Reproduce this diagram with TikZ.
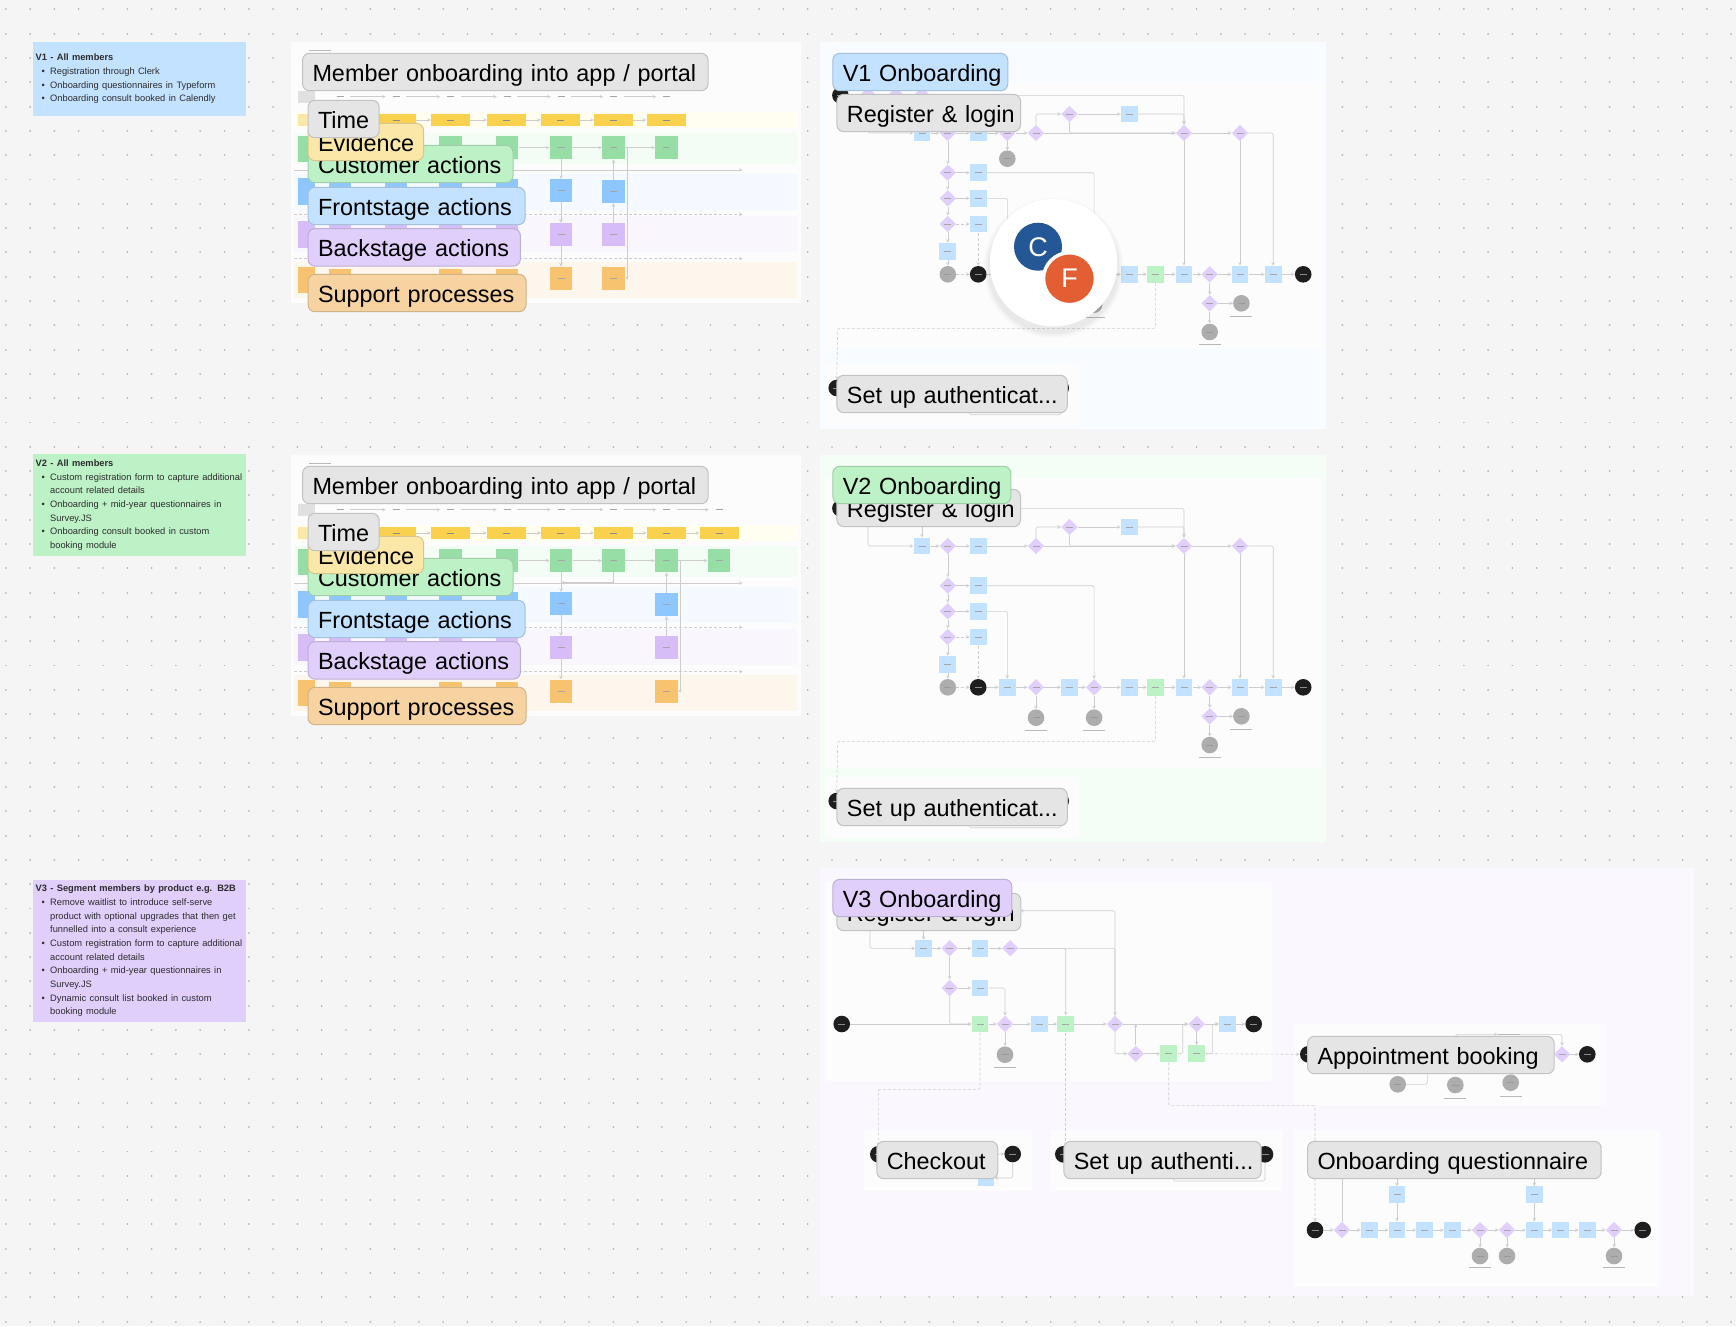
\documentclass[tikz,border=0pt]{standalone}
\usepackage{fontspec}
\setmainfont{Liberation Sans}
\usetikzlibrary{arrows, shapes.geometric, calc}

\definecolor{canvasgray}{HTML}{F5F5F5}
\definecolor{dotgray}{HTML}{B4B4B4}
\definecolor{linegray}{HTML}{CDCDCD}
\definecolor{framewhite}{HTML}{FCFCFC}
\definecolor{noteblue}{HTML}{C2E2FF}
\definecolor{notegreen}{HTML}{BDF2C7}
\definecolor{notepurple}{HTML}{E0CEFB}
\definecolor{noteorange}{HTML}{F6D3A0}
\definecolor{noteyellow}{HTML}{FBE8A8}
\definecolor{noteink}{HTML}{2C2C2C}
\definecolor{inkblack}{HTML}{1E1E1E}
\definecolor{circlegray}{HTML}{ADADAD}
\definecolor{avatarblue}{HTML}{235796}
\definecolor{avatarorange}{HTML}{E35F33}
\definecolor{stickyyellow}{HTML}{FAD14F}
\definecolor{stickygreen}{HTML}{96DEA6}
\definecolor{stickyblue}{HTML}{8EC6FF}
\definecolor{stickypurple}{HTML}{D6BDF8}
\definecolor{stickyorange}{HTML}{F8C36F}

\tikzset{
  smudge/.style={path picture={\draw[line width=.5pt,#1] ([xshift=-3.5pt]path picture bounding box.center) -- ([xshift=3.5pt]path picture bounding box.center);}},
  smudge/.default=black!35,
  pill/.style={rounded corners=7pt, line width=1pt, anchor=west, align=left, inner xsep=10pt, inner ysep=7.7pt, text height=20.4pt, text depth=1.6pt, font=\fontsize{23.4}{24}\selectfont, text=black},
  pillgrey/.style={pill, fill=black!10, draw=black!24},
  pillyellow/.style={pill, fill=noteyellow, draw=noteyellow!85!black},
  pillgreen/.style={pill, fill=notegreen, draw=notegreen!85!black},
  pillblue/.style={pill, fill=noteblue, draw=noteblue!85!black},
  pillpurple/.style={pill, fill=notepurple, draw=notepurple!85!black},
  pillorange/.style={pill, fill=noteorange, draw=noteorange!85!black},
  notebox/.style={anchor=north west, inner xsep=2.5pt, inner ysep=0pt, text width=208pt, minimum width=213pt, align=left, text=noteink},
  rbox/.style={rectangle, fill=noteblue, inner sep=0pt, minimum size=16.8pt, smudge},
  gbox/.style={rectangle, fill=notegreen, inner sep=0pt, minimum size=16.8pt, smudge},
  dmark/.style={diamond, aspect=1, fill=notepurple, inner sep=0pt, minimum size=16.5pt, smudge},
  gcirc/.style={circle, fill=circlegray, inner sep=0pt, minimum size=16.6pt, smudge=black!40},
  kcirc/.style={circle, fill=inkblack, inner sep=0pt, minimum size=16.6pt, smudge=black!45},
  capmark/.style={rectangle, fill=black!28, inner sep=0pt, minimum width=22pt, minimum height=.6pt},
  flow/.style={draw=linegray, line width=.6pt, rounded corners=1.5pt, -stealth},
  flowdash/.style={flow, densely dashed},
  sticky/.style={rectangle, inner sep=0pt, minimum width=22.7pt, minimum height=23pt, smudge=black!35},
  evsticky/.style={rectangle, fill=stickyyellow, inner sep=0pt, minimum width=39pt, minimum height=12pt, smudge=black!45},
  timemark/.style={rectangle, inner sep=0pt, minimum width=20pt, minimum height=4pt, smudge=black!35},
  bpline/.style={draw=linegray, line width=.6pt, -stealth},
  dotrow/.style={draw=dotgray, line width=1.9pt, line cap=round, dash pattern=on .01pt off 24.29pt}
}

\newcommand{\bulletline}[1]{\par\hangindent=14.5pt\hangafter=1\noindent\hspace*{6pt}\makebox[8.5pt][l]{\textbullet}\mbox{#1}}
\newcommand{\noterest}[1]{\newline\mbox{#1}}
\newcommand{\notefont}{\fontsize{9.3}{13.67}\selectfont}

\newcommand{\blueprintlanes}{
  \fill[framewhite] (291,42) rectangle (801,303);
  \fill[yellow!6] (294,111.7) rectangle (796.5,128.3);
  \fill[notegreen!18!white] (294,133) rectangle (796.5,164);
  \fill[noteblue!18!white] (294,174) rectangle (796.5,210);
  \fill[notepurple!18!white] (294,216) rectangle (796.5,252);
  \fill[noteorange!20!white] (294,261.7) rectangle (796.5,298);
  \node[capmark] (bptitle) at (320,50) {};
  \draw[bpline] (294,170) -- (742.7,170);
  \draw[bpline, densely dashed] (294,214.3) -- (742.7,214.3);
  \draw[bpline, densely dashed] (294,258.7) -- (742.7,258.7);
  \fill[black!12] (298,91) rectangle (315,103);
  \fill[noteyellow] (298,114) rectangle (315,126);
  \fill[stickygreen] (298,135.7) rectangle (315,161.7);
  \fill[stickyblue] (298,178) rectangle (315,205);
  \fill[stickypurple] (298,221) rectangle (315,247.7);
  \fill[stickyorange] (298,266.7) rectangle (315,293);
  \foreach \x [count=\i] in {340,396,450.5,507} {
    \node[sticky, fill=stickyblue] (fs\i) at (\x,190) {};
    \node[sticky, fill=stickypurple] (bs\i) at (\x,236.5) {};
  }
  \foreach \x [count=\i] in {340,450.5,507} {
    \node[sticky, fill=stickyorange] (ss\i) at (\x,280) {};
  }
  \node[sticky, fill=stickygreen] (c3) at (450.5,147.7) {};
  \node[sticky, fill=stickygreen] (c4) at (507,147.7) {};
}

\newcommand{\blueprintpills}{
  \node[pillorange, text width=198pt] (support) at (307.5,293) {\mbox{Support processes}};
  \node[pillpurple, text width=192.4pt] (backstage) at (307.5,247.4) {\mbox{Backstage actions}};
  \node[pillblue, text width=197.1pt] (frontstage) at (307.5,206) {\mbox{Frontstage actions}};
  \node[pillgreen, text width=185pt] (customer) at (307.5,164) {\mbox{Customer actions}};
  \node[pillyellow, text width=95.5pt] (evidence) at (307.5,142) {\mbox{Evidence}};
  \node[pillgrey, text width=51.2pt] (timepill) at (307.5,119) {\mbox{Time}};
  \node[pillgrey, text width=385.6pt] (member) at (302,72) {\mbox{Member onboarding into app / portal}};
}

\newcommand{\flowcommon}{
  \node[kcirc] (kstart) at (840.4,95.3) {};
  \node[dmark] (dtop1) at (868,95.3) {};
  \node[dmark] (dtop2) at (896,95.3) {};
  \node[dmark] (dtop3) at (922,95.3) {};
  \node[rbox] (rform) at (922,133) {};
  \node[dmark] (dfirst) at (947.8,133) {};
  \node[rbox] (rnext) at (978.2,133) {};
  \node[dmark] (dsplit) at (1036,133) {};
  \node[dmark] (dupper) at (1069.5,114) {};
  \node[rbox] (rupper) at (1129.3,114) {};
  \node[dmark] (djoin) at (1184,133) {};
  \node[dmark] (dlast) at (1240,133) {};
  \node[dmark] (dq1) at (947.8,172.7) {};
  \node[dmark] (dq2) at (947.8,198.3) {};
  \node[dmark] (dq3) at (947.8,224) {};
  \node[rbox] (rq1) at (978.2,172.7) {};
  \node[rbox] (rq2) at (978.2,198.3) {};
  \node[rbox] (rq3) at (978.2,224) {};
  \node[rbox] (rq4) at (947.8,251.3) {};
  \node[gcirc] (gleft) at (947.8,274.3) {};
  \node[kcirc] (kmid) at (978.2,274.3) {};
  \node[rbox] (rm1) at (1007.3,274.3) {};
  \node[dmark] (dm1) at (1036,274.3) {};
  \node[rbox] (rm2) at (1069.5,274.3) {};
  \node[dmark] (dm2) at (1094.1,274.3) {};
  \node[rbox] (rm3) at (1129.3,274.3) {};
  \node[gbox] (gm) at (1155.3,274.3) {};
  \node[rbox] (rm4) at (1184,274.3) {};
  \node[dmark] (dm3) at (1209.7,274.3) {};
  \node[rbox] (rm5) at (1240,274.3) {};
  \node[rbox] (rm6) at (1273.2,274.3) {};
  \node[kcirc] (kend) at (1303.2,274.3) {};
  \node[gcirc] (gm1) at (1036,304.7) {};
  \node[gcirc] (gm2) at (1094.1,304.7) {};
  \node[capmark] (cap1) at (1036,317) {};
  \node[capmark] (cap2) at (1094.1,317) {};
  \node[dmark] (dsub) at (1209.7,303.3) {};
  \node[gcirc] (gsub1) at (1241.4,303.3) {};
  \node[gcirc] (gsub2) at (1209.7,332) {};
  \node[capmark] (cap3) at (1241.4,316.3) {};
  \node[capmark] (cap4) at (1209.7,344) {};
  \node[kcirc] (kauth) at (836.7,388) {};
  \node[kcirc] (kauthend) at (1060.7,388) {};
  \coordinate (bend) at (837.7,328.3);
  \coordinate (abot) at (969.5,414.7);
  \coordinate (aleft) at (969.5,400);
  \draw[flow] (dtop1.south) |- (rform.west);
  \draw[flow] (dtop3.south) -- (rform.north);
  \draw[flow] (dtop3.east) -| (djoin.north);
  \draw[flow] (rform) -- (dfirst);
  \draw[flow] (dfirst) -- (rnext);
  \draw[flow] (dsplit.north) |- (dupper.west);
  \draw[flow] (dupper) -- (rupper);
  \draw[flow] (rupper.east) -| (djoin.north);
  \draw[flow] (dupper.south) |- (djoin.west);
  \draw[flow] (dsplit) -- (djoin);
  \draw[flow] (djoin) -- (dlast);
  \draw[flow] (dlast.east) -| (rm6.north);
  \draw[flow] (dlast.south) -- (rm5.north);
  \draw[flow] (djoin.south) -- (rm4.north);
  \draw[flow] (dfirst) -- (dq1);
  \draw[flow] (dq1) -- (dq2);
  \draw[flow] (dq2) -- (dq3);
  \draw[flow] (dq3) -- (rq4);
  \draw[flow] (rq4) -- (gleft);
  \draw[flow] (dq1) -- (rq1);
  \draw[flow] (dq2) -- (rq2);
  \draw[flowdash] (dq3) -- (rq3);
  \draw[flow] (rq1.east) -| (dm2.north);
  \draw[flow] (rq2.east) -| (rm1.north);
  \draw[flowdash] (rq3) -- (kmid);
  \draw[flowdash] (gleft) -- (kmid);
  \draw[flow] (kmid) -- (rm1);
  \draw[flow] (rm1) -- (dm1);
  \draw[flow] (dm1) -- (rm2);
  \draw[flow] (rm2) -- (dm2);
  \draw[flow] (dm2) -- (rm3);
  \draw[flow] (rm3) -- (gm);
  \draw[flow] (gm) -- (rm4);
  \draw[flow] (rm4) -- (dm3);
  \draw[flow] (dm3) -- (rm5);
  \draw[flow] (rm5) -- (rm6);
  \draw[flow] (rm6) -- (kend);
  \draw[flow] (dm1) -- (gm1);
  \draw[flow] (dm2) -- (gm2);
  \draw[flow] (dm3) -- (dsub);
  \draw[flow] (dsub) -- (gsub1);
  \draw[flow] (dsub) -- (gsub2);
  \draw[flowdash] (gm.south) |- (bend) -- (kauth.north);
  \draw[flow] (kauthend.south) |- (abot) -- (aleft);
}

\begin{document}
\begin{tikzpicture}[x=1pt,y=-1pt]
\fill[canvasgray] (0,0) rectangle (1736,1326);
\useasboundingbox (0,0) rectangle (1736,1326);
\foreach \y in {0,...,54} {
  \draw[dotrow] (5.8,{9.4+\y*24.3}) -- (1736,{9.4+\y*24.3});
}

% notes on the left
\node[notebox, fill=noteblue, minimum height=74.7pt] (notea) at (33,41.3) {\notefont\textbf{V1 - All members}
  \bulletline{Registration through Clerk}
  \bulletline{Onboarding questionnaires in Typeform}
  \bulletline{Onboarding consult booked in Calendly}\par};
\node[notebox, fill=notegreen, minimum height=102pt] (noteb) at (33,454) {\notefont\textbf{V2 - All members}
  \bulletline{Custom registration form to capture additional}\noterest{account related details}
  \bulletline{Onboarding + mid-year questionnaires in}\noterest{Survey.JS}
  \bulletline{Onboarding consult booked in custom}\noterest{booking module}\par};
\node[notebox, fill=notepurple, minimum height=142.7pt] (notec) at (33,879.3) {\notefont\textbf{V3 - Segment members by product e.g. B2B}
  \bulletline{Remove waitlist to introduce self-serve}\noterest{product with optional upgrades that then get}\noterest{funnelled into a consult experience}
  \bulletline{Custom registration form to capture additional}\noterest{account related details}
  \bulletline{Onboarding + mid-year questionnaires in}\noterest{Survey.JS}
  \bulletline{Dynamic consult list booked in custom}\noterest{booking module}\par};

% blueprint one
\begin{scope}[name prefix=pa-]
  \blueprintlanes
  \foreach \x [count=\i] in {340,396,450.5,507,561,613.5,666.5} {
    \node[timemark] (t\i) at (\x,96.7) {};
  }
  \foreach \i [evaluate=\i as \j using int(\i+1)] in {1,...,6} {
    \draw[bpline] (t\i) -- (t\j);
  }
  \foreach \x [count=\i] in {396,450.5,506.5,560.5,613.5,666} {
    \node[evsticky] (e\i) at (\x,120) {};
  }
  \foreach \i [evaluate=\i as \j using int(\i+1)] in {1,...,5} {
    \draw[bpline] (e\i) -- (e\j);
  }
  \foreach \x [count=\i from 5] in {561,613.5,666.5} {
    \node[sticky, fill=stickygreen] (c\i) at (\x,147.7) {};
  }
  \node[sticky, fill=stickyblue] (f5) at (561,190.7) {};
  \node[sticky, fill=stickyblue] (f6) at (613.5,191.5) {};
  \node[sticky, fill=stickypurple] (b5) at (561,234.5) {};
  \node[sticky, fill=stickypurple] (b6) at (613.5,234.5) {};
  \node[sticky, fill=stickyorange] (s5) at (561,278) {};
  \node[sticky, fill=stickyorange] (s6) at (613.5,278) {};
  \coordinate (dropa) at (627,147.7);
  \coordinate (dropb) at (627,278);
  \draw[bpline] (c4) -- (c5);
  \draw[bpline] (c5) -- (c6);
  \draw[bpline] (c6) -- (c7);
  \draw[bpline] (c5) -- (f5);
  \draw[bpline] (f5) -- (b5);
  \draw[bpline] (b5) -- (s5);
  \draw[bpline] (b6) -- (f6);
  \draw[bpline] (f6) -- (c6);
  \draw[bpline] (c6.east) -- (dropa) -- (dropb) -- (s6.east);
  \blueprintpills
\end{scope}

% blueprint two
\begin{scope}[name prefix=pb-, yshift=-413pt]
  \blueprintlanes
  \foreach \x [count=\i] in {340,396,450.5,507,561,613.5,666.5,719} {
    \node[timemark] (t\i) at (\x,96.7) {};
  }
  \foreach \i [evaluate=\i as \j using int(\i+1)] in {1,...,7} {
    \draw[bpline] (t\i) -- (t\j);
  }
  \foreach \x [count=\i] in {396,450.5,506.5,560.5,613.5,666,719} {
    \node[evsticky] (e\i) at (\x,120) {};
  }
  \foreach \i [evaluate=\i as \j using int(\i+1)] in {1,...,6} {
    \draw[bpline] (e\i) -- (e\j);
  }
  \foreach \x [count=\i from 5] in {561,613.5,666.5,719} {
    \node[sticky, fill=stickygreen] (c\i) at (\x,147.7) {};
  }
  \node[sticky, fill=stickyblue] (f5) at (561,190.7) {};
  \node[sticky, fill=stickyblue] (f7) at (666.5,191.5) {};
  \node[sticky, fill=stickypurple] (b5) at (561,234.5) {};
  \node[sticky, fill=stickypurple] (b7) at (666.5,234.5) {};
  \node[sticky, fill=stickyorange] (s5) at (561,278) {};
  \node[sticky, fill=stickyorange] (s7) at (666.5,278) {};
  \coordinate (dropa) at (680.4,147.7);
  \coordinate (dropb) at (680.4,278);
  \coordinate (merge) at (561,169.7);
  \draw[bpline] (c4) -- (c5);
  \draw[bpline] (c5) -- (c6);
  \draw[bpline] (c6) -- (c7);
  \draw[bpline] (c7) -- (c8);
  \draw[bpline] (c5) -- (f5);
  \draw[bpline] (f5) -- (b5);
  \draw[bpline] (b5) -- (s5);
  \draw[bpline] (c6.south) |- (merge);
  \draw[bpline] (b7) -- (f7);
  \draw[bpline] (f7) -- (c7);
  \draw[bpline] (c7.east) -- (dropa) -- (dropb) -- (s7.east);
  \blueprintpills
\end{scope}

% onboarding v1
\begin{scope}[name prefix=va-]
  \fill[noteblue!12!white] (820,42) rectangle (1326,429);
  \fill[framewhite] (825,82.3) rectangle (1322,349.3);
  \fill[framewhite] (825,364) rectangle (1079,425);
  \flowcommon
  \node[dmark] (dcheck) at (1007.3,133) {};
  \node[gcirc] (gcheck) at (1007.3,158.7) {};
  \draw[flow] (rnext) -- (dcheck);
  \draw[flow] (dcheck) -- (dsplit);
  \draw[flow] (dcheck) -- (gcheck);
  \node[pillgrey, text width=163.6pt] (register) at (836.4,113) {\mbox{Register \& login}};
  \node[pillblue, text width=155pt] (version) at (832.3,72) {\mbox{V1 Onboarding}};
  \node[pillgrey, text width=210.4pt] (authpill) at (836.4,394) {\mbox{Set up authenticat...}};
\end{scope}

% avatars
\foreach \r/\o in {70/.02,68/.025,66/.03} {
  \fill[black, opacity=\o] (1053.6,268) circle (\r);
}
\node[circle, fill=white, inner sep=0pt, minimum size=127.4pt] (avatar) at (1053.6,262.7) {};
\node[circle, fill=avatarblue, inner sep=0pt, minimum size=48pt, text=white, font=\fontsize{27}{27}\selectfont] (userc) at (1038,246.7) {C};
\node[circle, fill=avatarorange, draw=white, line width=3.5pt, inner sep=0pt, minimum size=52pt, text=white, font=\fontsize{27}{27}\selectfont] (userf) at (1069.5,278.7) {F};

% onboarding v2
\begin{scope}[name prefix=vb-, yshift=-413pt]
  \fill[notegreen!15!white] (820,41.7) rectangle (1326,429);
  \fill[framewhite] (825,64.7) rectangle (1322,355);
  \fill[framewhite] (825,363.7) rectangle (1079,425);
  \flowcommon
  \draw[flow] (rnext) -- (dsplit);
  \node[pillgrey, text width=163.6pt] (register) at (836.4,95) {\mbox{Register \& login}};
  \node[pillgreen, text width=158pt] (version) at (832.3,72) {\mbox{V2 Onboarding}};
  \node[pillgrey, text width=210.4pt] (authpill) at (836.4,394) {\mbox{Set up authenticat...}};
\end{scope}

% onboarding v3
\begin{scope}[name prefix=vc-]
  \fill[notepurple!15!white] (820,868) rectangle (1694,1296);
  \fill[framewhite] (825,882) rectangle (1272.3,1080.7);
  \fill[framewhite] (864,1130) rectangle (1032.3,1191);
  \fill[framewhite] (1051,1130) rectangle (1283.3,1191);
  \fill[framewhite] (1294.7,1023.7) rectangle (1606.3,1105);
  \fill[framewhite] (1294.7,1129.7) rectangle (1660.3,1286.7);
  \node[dmark] (dtop1) at (870,912) {};
  \node[dmark] (dtop2) at (923.7,912) {};
  \node[rbox] (rform) at (923.7,948.3) {};
  \node[dmark] (dfirst) at (949.7,948.3) {};
  \node[rbox] (rnext) at (980,948.3) {};
  \node[dmark] (dsecond) at (1010.3,948.3) {};
  \node[dmark] (dproduct) at (949.7,988) {};
  \node[rbox] (rproduct) at (980,988) {};
  \node[kcirc] (kentry) at (841.7,1024) {};
  \node[gbox] (gcheckout) at (980,1024) {};
  \node[dmark] (dpaid) at (1005,1024) {};
  \node[rbox] (rpaid) at (1039.3,1024) {};
  \node[gbox] (gauth) at (1065.7,1024) {};
  \node[dmark] (droute) at (1115,1024) {};
  \node[dmark] (dmerge) at (1196.7,1024) {};
  \node[rbox] (rfinal) at (1227.7,1024) {};
  \node[kcirc] (kfinal) at (1253.7,1024) {};
  \node[gcirc] (gpaid) at (1005,1054.7) {};
  \node[capmark] (cap1) at (1005,1067) {};
  \node[dmark] (dside) at (1135.7,1053.7) {};
  \node[gbox] (gquest) at (1168.7,1053.7) {};
  \node[gbox] (gbook) at (1196.7,1053.7) {};
  \coordinate (regtop) at (1020.3,910.7);
  \coordinate (sidea) at (1182.7,1053.7);
  \coordinate (sideb) at (1182.7,1024);
  \coordinate (sidec) at (1212.3,1053.7);
  \coordinate (sided) at (1212.3,1024);
  \coordinate (bendc) at (878.3,1089.3);
  \coordinate (bendo) at (1315,1105.3);
  % checkout
  \node[kcirc] (kcheck) at (878.3,1154.3) {};
  \node[kcirc] (kcheckend) at (1012.7,1154) {};
  \node[rbox] (rorder) at (986,1178) {};
  % set up authentication
  \node[kcirc] (kauth) at (1063.3,1154.3) {};
  \node[kcirc] (kauthend) at (1265,1154.3) {};
  \coordinate (abot) at (1173.3,1181);
  \coordinate (aleft) at (1173.3,1175);
  % appointment booking
  \node[kcirc] (kappt) at (1308.3,1054.3) {};
  \node[dmark] (dappt) at (1562,1054.3) {};
  \node[kcirc] (kapptend) at (1587.3,1054.3) {};
  \node[gcirc] (gappta) at (1397.7,1084.3) {};
  \node[gcirc] (gapptb) at (1455.3,1085) {};
  \node[gcirc] (gapptc) at (1510.7,1082.7) {};
  \node[capmark] (cap2) at (1455.3,1098.7) {};
  \node[capmark] (cap3) at (1510.7,1096.7) {};
  \node[capmark] (cap4) at (1509,1034.3) {};
  \coordinate (apptleft) at (1455.7,1045);
  \coordinate (apptelbow) at (1427.3,1060);
  % questionnaire
  \node[kcirc] (konb) at (1315,1230) {};
  \node[dmark] (dqa) at (1342,1230) {};
  \foreach \x [count=\i] in {1369.3,1397,1424.7,1452.3} {
    \node[rbox] (ra\i) at (\x,1230) {};
  }
  \node[dmark] (dqb) at (1480,1230) {};
  \node[dmark] (dqc) at (1507,1230) {};
  \foreach \x [count=\i] in {1534.3,1560.7,1587.3} {
    \node[rbox] (rb\i) at (\x,1230) {};
  }
  \node[dmark] (dqd) at (1614,1230) {};
  \node[kcirc] (konbend) at (1642.7,1230) {};
  \node[rbox] (rupa) at (1397,1194.7) {};
  \node[rbox] (rupb) at (1534.3,1194.7) {};
  \node[gcirc] (gqb) at (1480,1256) {};
  \node[gcirc] (gqc) at (1507,1256) {};
  \node[gcirc] (gqd) at (1614,1256) {};
  \node[capmark] (cap5) at (1480,1267.7) {};
  \node[capmark] (cap6) at (1614,1267.7) {};
  \coordinate (qtop) at (1342,1170);
  \coordinate (qa) at (1397,1170);
  \coordinate (qb) at (1534.3,1170);
  % connectors
  \draw[flow] (dtop1.south) |- (rform.west);
  \draw[flow] (dtop2.south) -- (rform.north);
  \draw[flow] (rform) -- (dfirst);
  \draw[flow] (dfirst) -- (rnext);
  \draw[flow] (rnext) -- (dsecond);
  \draw[flow] (dsecond.east) -| (droute.north);
  \draw[flow] (droute.north) |- (regtop);
  \draw[flow] (dsecond.east) -| (gauth.north);
  \draw[flow] (dfirst) -- (dproduct);
  \draw[flow] (dproduct) -- (rproduct);
  \draw[flow] (dproduct.south) |- (gcheckout.west);
  \draw[flow] (rproduct.east) -| (dpaid.north);
  \draw[flow] (kentry) -- (gcheckout);
  \draw[flow] (gcheckout) -- (dpaid);
  \draw[flow] (dpaid) -- (rpaid);
  \draw[flow] (rpaid) -- (gauth);
  \draw[flow] (gauth) -- (droute);
  \draw[flow] (droute) -- (dmerge);
  \draw[flow] (dmerge) -- (rfinal);
  \draw[flow] (rfinal) -- (kfinal);
  \draw[flow] (dpaid) -- (gpaid);
  \draw[flow] (droute.south) |- (dside.west);
  \draw[flow] (dside.north) -- (dside.north |- droute.east);
  \draw[flow] (dside) -- (gquest);
  \draw[flow] (gquest.east) -- (sidea) -- (sideb) -- (dmerge.west);
  \draw[flow] (dmerge) -- (gbook);
  \draw[flow] (gbook.east) -- (sidec) -- (sided) -- (rfinal.west);
  \draw[flowdash] (gbook.east) -- (kappt.west);
  \draw[flowdash] (gcheckout.south) |- (bendc) -- (kcheck.north);
  \draw[flowdash] (gauth.south) -- (gauth.south |- kauth.north);
  \draw[flowdash] (gquest.south) |- (bendo) -- (konb.north);
  \draw[flow] (kcheck) -- (kcheckend);
  \draw[flow] (kcheckend.south) |- (rorder.east);
  \draw[flow] (kauth) -- (kauthend);
  \draw[flow] (kauthend.south) |- (abot) -- (aleft);
  \draw[flow] (kappt) -- (dappt);
  \draw[flow] (dappt) -- (kapptend);
  \draw[flow] (apptleft) |- (cap4.west);
  \draw[flow] (cap4.east) -| (dappt.north);
  \draw[flow] (gappta.east) -| (apptelbow);
  \draw[flow] (konb) -- (dqa);
  \draw[flow] (dqa) -- (ra1);
  \draw[flow] (ra1) -- (ra2);
  \draw[flow] (ra2) -- (ra3);
  \draw[flow] (ra3) -- (ra4);
  \draw[flow] (ra4) -- (dqb);
  \draw[flow] (dqb) -- (dqc);
  \draw[flow] (dqc) -- (rb1);
  \draw[flow] (rb1) -- (rb2);
  \draw[flow] (rb2) -- (rb3);
  \draw[flow] (rb3) -- (dqd);
  \draw[flow] (dqd) -- (konbend);
  \draw[flow] (dqb) -- (gqb);
  \draw[flow] (dqc) -- (gqc);
  \draw[flow] (dqd) -- (gqd);
  \draw[flow] (rupa) -- (ra2);
  \draw[flow] (rupb) -- (rb1);
  \draw[flow] (dqa) -- (qtop);
  \draw[flow] (qa) -- (rupa);
  \draw[flow] (qb) -- (rupb);
  % labels on top
  \node[pillgrey, text width=164pt] (register) at (836.3,912) {\mbox{Register \& login}};
  \node[pillpurple, text width=159pt] (version) at (832.3,898) {\mbox{V3 Onboarding}};
  \node[pillgrey, text width=101pt] (checkoutpill) at (876.3,1160) {\mbox{Checkout}};
  \node[pillgrey, text width=177.4pt] (authpill) at (1063.3,1160) {\mbox{Set up authenti...}};
  \node[pillgrey, text width=226.7pt] (apptpill) at (1307,1055) {\mbox{Appointment booking}};
  \node[pillgrey, text width=273.7pt] (onbpill) at (1307,1160) {\mbox{Onboarding questionnaire}};
\end{scope}
\end{tikzpicture}
\end{document}
